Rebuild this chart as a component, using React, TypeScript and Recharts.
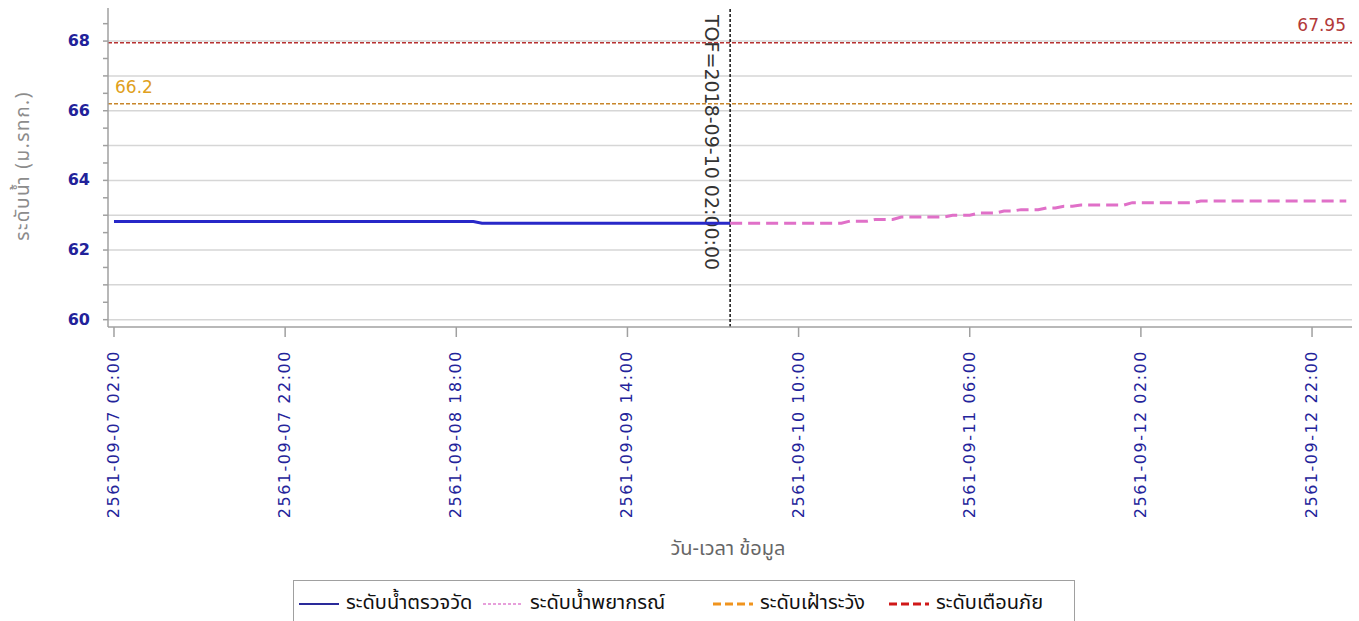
import React from 'react';
import { LineChart, Line, XAxis, YAxis, ReferenceLine } from 'recharts';

// observed water level, hourly from 2561-09-07 02:00 (hour 0) to TOF (hour 72)
const observedLevels = [
  62.82, 62.82, 62.82, 62.82, 62.82, 62.82, 62.82, 62.82, 62.82, 62.82,
  62.82, 62.82, 62.82, 62.82, 62.82, 62.82, 62.82, 62.82, 62.82, 62.82,
  62.82, 62.82, 62.82, 62.82, 62.82, 62.82, 62.82, 62.82, 62.82, 62.82,
  62.82, 62.82, 62.82, 62.82, 62.82, 62.82, 62.82, 62.82, 62.82, 62.82,
  62.82, 62.82, 62.82, 62.77, 62.77, 62.77, 62.77, 62.77, 62.77, 62.77,
  62.77, 62.77, 62.77, 62.77, 62.77, 62.77, 62.77, 62.77, 62.77, 62.77,
  62.77, 62.77, 62.77, 62.77, 62.77, 62.77, 62.77, 62.77, 62.77, 62.77,
  62.77, 62.77, 62.77,
];

// forecast water level, hourly from TOF (hour 72) to hour 144
const forecastLevels = [
  62.77, 62.77, 62.77, 62.77, 62.77, 62.77, 62.77, 62.77, 62.77, 62.77,
  62.77, 62.77, 62.77, 62.77, 62.83, 62.83, 62.83, 62.88, 62.88, 62.88,
  62.95, 62.95, 62.95, 62.95, 62.95, 62.95, 63.0, 63.0, 63.0, 63.06,
  63.06, 63.06, 63.12, 63.12, 63.16, 63.16, 63.16, 63.21, 63.21, 63.26,
  63.26, 63.29, 63.29, 63.29, 63.29, 63.29, 63.29, 63.36, 63.36, 63.36,
  63.36, 63.36, 63.36, 63.36, 63.36, 63.41, 63.41, 63.41, 63.41, 63.41,
  63.41, 63.41, 63.41, 63.41, 63.41, 63.41, 63.41, 63.41, 63.41, 63.41,
  63.41, 63.41, 63.41,
];

const tofHour = 72;
const tickHours = [0, 20, 40, 60, 80, 100, 120, 140];
const tickLabels = [
  '2561-09-07 02:00',
  '2561-09-07 22:00',
  '2561-09-08 18:00',
  '2561-09-09 14:00',
  '2561-09-10 10:00',
  '2561-09-11 06:00',
  '2561-09-12 02:00',
  '2561-09-12 22:00',
];
const yTicks = [60, 60.5, 61, 61.5, 62, 62.5, 63, 63.5, 64, 64.5, 65, 65.5, 66, 66.5, 67, 67.5, 68, 68.5];
const yLabelTicks = [60, 62, 64, 66, 68];
const gridLevels = [60, 61, 62, 63, 64, 65, 66, 67, 68];
const watchLevel = 66.2;
const warnLevel = 67.95;
const seriesNames = ['ระดับน้ำตรวจวัด', 'ระดับน้ำพยากรณ์', 'ระดับเฝ้าระวัง', 'ระดับเตือนภัย'];
const tofLabel = 'TOF=2018-09-10 02:00:00';
const xTitle = 'วัน-เวลา ข้อมูล';
const yTitle = 'ระดับน้ำ (ม.รทก.)';

const data = Array.from({ length: tofHour + forecastLevels.length }, (_, h) => ({
  h,
  obs: h < observedLevels.length ? observedLevels[h] : null,
  fc: h >= tofHour ? forecastLevels[h - tofHour] : null,
}));

const THAI = "'Noto Sans Thai', Tahoma, 'DejaVu Sans', sans-serif";

const XTick = (props: any) => {
  const { x, y, payload } = props;
  const i = tickHours.indexOf(payload.value);
  const label = i >= 0 ? tickLabels[i] : '';
  const bx = x + 5;
  const by = y + 11;
  return (
    <text
      x={bx}
      y={by}
      transform={`rotate(-90 ${bx} ${by})`}
      textAnchor="end"
      fill="#23239a"
      fontSize={16}
      letterSpacing={1.5}
      fontFamily="DejaVu Sans"
    >
      {label}
    </text>
  );
};

const YTick = (props: any) => {
  const { x, y, payload } = props;
  if (!yLabelTicks.includes(payload.value)) return <g />;
  return (
    <text x={x - 11} y={y} dy={5} textAnchor="end" fill="#22229a" fontSize={16} fontWeight="bold" fontFamily="DejaVu Sans">
      {payload.value}
    </text>
  );
};

const WarnLabel = (props: any) => {
  const { viewBox } = props;
  return (
    <text x={viewBox.x + viewBox.width - 6} y={viewBox.y - 12} textAnchor="end" fill="#b23a3a" fontSize={17} fontFamily="DejaVu Sans">
      {warnLevel}
    </text>
  );
};

const WatchLabel = (props: any) => {
  const { viewBox } = props;
  return (
    <text x={viewBox.x + 7} y={viewBox.y - 11} textAnchor="start" fill="#e0a020" fontSize={17} fontFamily="DejaVu Sans">
      {watchLevel}
    </text>
  );
};

const TofLabel = (props: any) => {
  const { viewBox } = props;
  const bx = viewBox.x - 25;
  const by = 15;
  return (
    <text x={bx} y={by} transform={`rotate(90 ${bx} ${by})`} textAnchor="start" fill="#333" fontSize={19} fontFamily="DejaVu Sans">
      {tofLabel}
    </text>
  );
};

const LegendSample = ({ color, dash, width }: { color: string; dash?: string; width: number }) => (
  <svg width={42} height={12} style={{ display: 'block' }}>
    <line x1={1} y1={6} x2={41} y2={6} stroke={color} strokeWidth={width} strokeDasharray={dash} />
  </svg>
);

export default function App() {
  const legendItems = [
    { name: seriesNames[0], color: '#2a2a9a', dash: undefined, width: 2, w: 184 },
    { name: seriesNames[1], color: '#e080d0', dash: '3 2', width: 1.5, w: 230 },
    { name: seriesNames[2], color: '#f0941e', dash: '8 4', width: 3, w: 176 },
    { name: seriesNames[3], color: '#d01818', dash: '8 4', width: 3, w: 180 },
  ];
  return (
    <div style={{ position: 'relative', width: 1359, height: 621, background: '#fff', overflow: 'hidden' }}>
      <style>{'body{margin:0}'}</style>
      <LineChart width={1359} height={621} data={data} margin={{ top: 8, right: 7, bottom: 94, left: 0 }}>
        {gridLevels.map((g) => (
          <ReferenceLine key={g} y={g} stroke="#d6d6d6" strokeWidth={1.5} />
        ))}
        <XAxis
          dataKey="h"
          type="number"
          domain={[-0.7, 144.67]}
          ticks={tickHours}
          interval={0}
          tick={<XTick />}
          tickSize={10}
          height={200}
          stroke="#a0a0a0"
          strokeWidth={1.5}
          allowDataOverflow
        />
        <YAxis
          type="number"
          domain={[59.79, 68.95]}
          ticks={yTicks}
          interval={0}
          tick={<YTick />}
          tickSize={5}
          width={108}
          stroke="#a0a0a0"
          strokeWidth={1.5}
          allowDataOverflow
        />
        <ReferenceLine y={watchLevel} stroke="#c8862a" strokeWidth={1.5} strokeDasharray="4 2" label={<WatchLabel />} />
        <ReferenceLine y={warnLevel} stroke="#b83232" strokeWidth={1.5} strokeDasharray="4 2" label={<WarnLabel />} />
        <ReferenceLine x={tofHour} stroke="#111" strokeWidth={1.5} strokeDasharray="3 2" label={<TofLabel />} />
        <Line
          type="linear"
          dataKey="obs"
          stroke="#2828c8"
          strokeWidth={3}
          dot={false}
          isAnimationActive={false}
          connectNulls={false}
        />
        <Line
          type="linear"
          dataKey="fc"
          stroke="#e070c8"
          strokeWidth={3}
          strokeDasharray="12 6"
          dot={false}
          isAnimationActive={false}
          connectNulls={false}
        />
      </LineChart>
      <div
        style={{
          position: 'absolute',
          left: 24,
          top: 166,
          transform: 'translate(-50%, -50%) rotate(-90deg)',
          color: '#8c8c8c',
          fontSize: 19,
          letterSpacing: 1.5,
          lineHeight: '24px',
          fontFamily: THAI,
          whiteSpace: 'nowrap',
        }}
      >
        {yTitle}
      </div>
      <div
        style={{
          position: 'absolute',
          left: 628,
          top: 534,
          width: 200,
          textAlign: 'center',
          color: '#666',
          fontSize: 20,
          fontFamily: THAI,
          whiteSpace: 'nowrap',
        }}
      >
        {xTitle}
      </div>
      <div
        style={{
          position: 'absolute',
          left: 293,
          top: 580,
          width: 782,
          height: 46,
          border: '1px solid #a0a0a0',
          boxSizing: 'border-box',
          display: 'flex',
          alignItems: 'flex-start',
          paddingTop: 7,
          paddingLeft: 4,
          fontSize: 20,
          color: '#111',
          fontFamily: THAI,
          whiteSpace: 'nowrap',
        }}
      >
        {legendItems.map((it) => (
          <div key={it.name} style={{ display: 'flex', alignItems: 'center', width: it.w, flex: 'none' }}>
            <div style={{ marginTop: 2 }}>
              <LegendSample color={it.color} dash={it.dash} width={it.width} />
            </div>
            <span style={{ marginLeft: 6 }}>{it.name}</span>
          </div>
        ))}
      </div>
    </div>
  );
}
